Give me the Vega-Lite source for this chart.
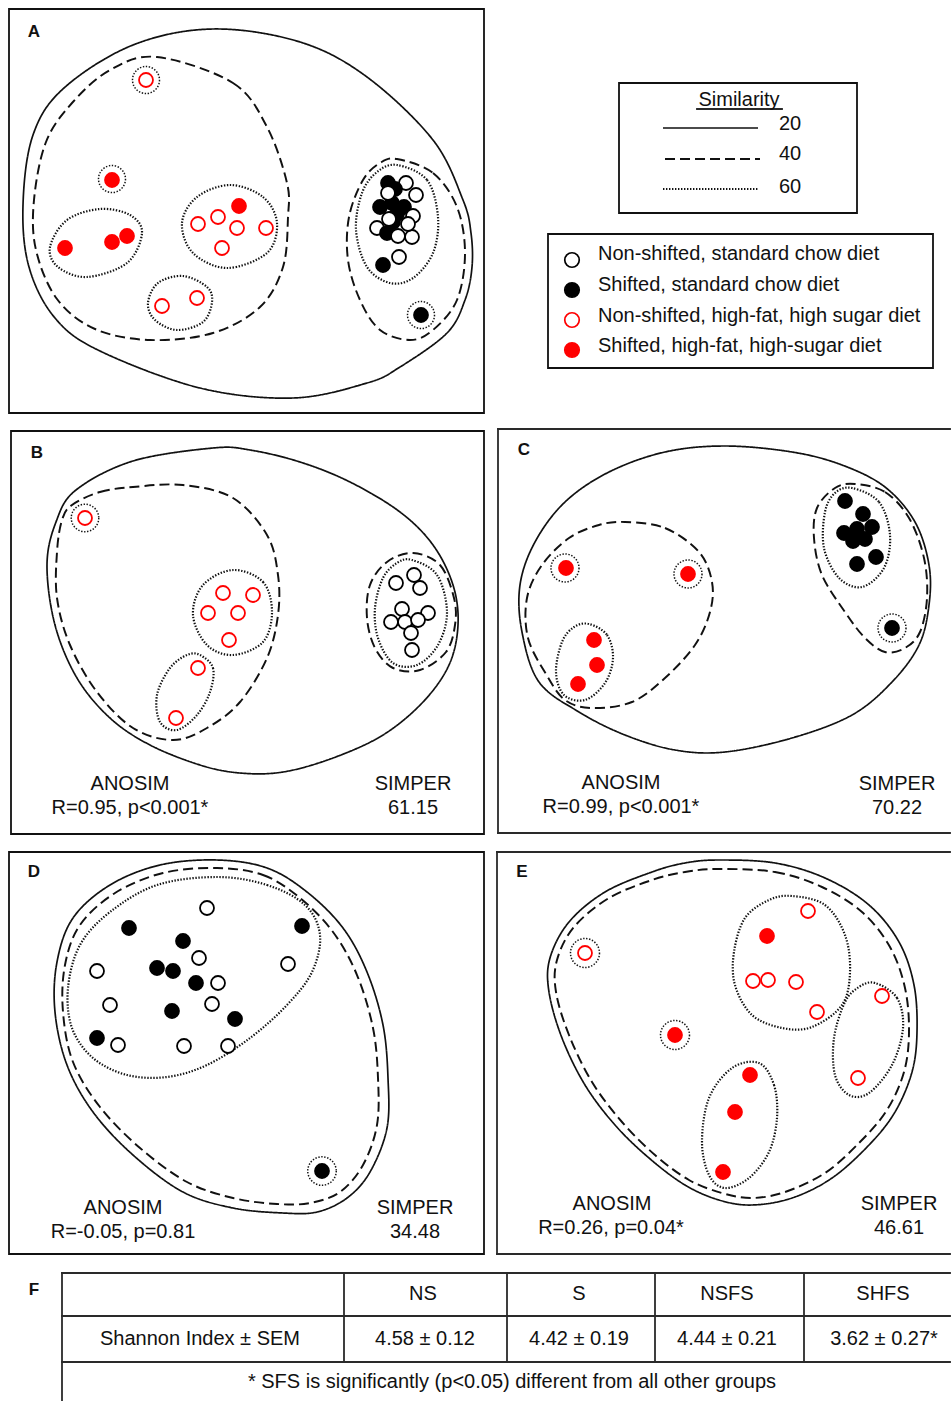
{
  "$schema": "https://vega.github.io/schema/vega-lite/v6.json",
  "width": 952,
  "height": 1402,
  "autosize": {"type": "fit", "contains": "padding"},
  "padding": 0,
  "background": "white",
  "view": {"stroke": null},
  "config": {"font": "Liberation Sans"},
  "datasets": {
    "boxes": [
      {"x": 9, "x2": 484, "y": 9, "y2": 413},
      {"x": 11, "x2": 484, "y": 431, "y2": 834},
      {"x": 9, "x2": 484, "y": 852, "y2": 1254},
      {"x": 619, "x2": 857, "y": 83, "y2": 213},
      {"x": 548, "x2": 933, "y": 234, "y2": 368}
    ],
    "segments": [
      {"x": 498, "x2": 950, "y": 429, "y2": 429},
      {"x": 498, "x2": 498, "y": 429, "y2": 833},
      {"x": 498, "x2": 950, "y": 833, "y2": 833},
      {"x": 497, "x2": 950, "y": 852, "y2": 852},
      {"x": 497, "x2": 497, "y": 852, "y2": 1254},
      {"x": 497, "x2": 950, "y": 1254, "y2": 1254},
      {"x": 62, "x2": 950, "y": 1273, "y2": 1273},
      {"x": 62, "x2": 950, "y": 1316, "y2": 1316},
      {"x": 62, "x2": 950, "y": 1362, "y2": 1362},
      {"x": 62, "x2": 62, "y": 1273, "y2": 1400},
      {"x": 344, "x2": 344, "y": 1273, "y2": 1362},
      {"x": 507, "x2": 507, "y": 1273, "y2": 1362},
      {"x": 655, "x2": 655, "y": 1273, "y2": 1362},
      {"x": 804, "x2": 804, "y": 1273, "y2": 1362},
      {"x": 697, "x2": 782, "y": 109, "y2": 109}
    ],
    "simKey": [
      {"level": "20", "x": 663, "x2": 758, "y": 128},
      {"level": "40", "x": 665, "x2": 760, "y": 159},
      {"level": "60", "x": 663, "x2": 758, "y": 189}
    ],
    "rings": [
      {"panel": "A", "x": 146, "y": 80},
      {"panel": "A", "x": 112, "y": 179},
      {"panel": "A", "x": 421, "y": 315},
      {"panel": "B", "x": 85, "y": 518},
      {"panel": "C", "x": 565, "y": 568},
      {"panel": "C", "x": 688, "y": 574},
      {"panel": "C", "x": 892, "y": 628},
      {"panel": "D", "x": 322, "y": 1171},
      {"panel": "E", "x": 585, "y": 953},
      {"panel": "E", "x": 675, "y": 1035}
    ],
    "outlines": [
      {"id": "A20", "level": "20", "x": 213, "y": 29},
      {"id": "A20", "level": "20", "x": 300, "y": 42},
      {"id": "A20", "level": "20", "x": 367, "y": 77},
      {"id": "A20", "level": "20", "x": 433, "y": 140},
      {"id": "A20", "level": "20", "x": 463, "y": 200},
      {"id": "A20", "level": "20", "x": 471, "y": 233},
      {"id": "A20", "level": "20", "x": 472, "y": 267},
      {"id": "A20", "level": "20", "x": 465, "y": 300},
      {"id": "A20", "level": "20", "x": 447, "y": 333},
      {"id": "A20", "level": "20", "x": 400, "y": 367},
      {"id": "A20", "level": "20", "x": 367, "y": 383},
      {"id": "A20", "level": "20", "x": 293, "y": 398},
      {"id": "A20", "level": "20", "x": 200, "y": 388},
      {"id": "A20", "level": "20", "x": 100, "y": 351},
      {"id": "A20", "level": "20", "x": 55, "y": 318},
      {"id": "A20", "level": "20", "x": 29, "y": 267},
      {"id": "A20", "level": "20", "x": 23, "y": 205},
      {"id": "A20", "level": "20", "x": 33, "y": 135},
      {"id": "A20", "level": "20", "x": 64, "y": 88},
      {"id": "A20", "level": "20", "x": 133, "y": 45},

      {"id": "A40a", "level": "40", "x": 157, "y": 57},
      {"id": "A40a", "level": "40", "x": 233, "y": 83},
      {"id": "A40a", "level": "40", "x": 267, "y": 127},
      {"id": "A40a", "level": "40", "x": 287, "y": 183},
      {"id": "A40a", "level": "40", "x": 288, "y": 217},
      {"id": "A40a", "level": "40", "x": 283, "y": 267},
      {"id": "A40a", "level": "40", "x": 260, "y": 307},
      {"id": "A40a", "level": "40", "x": 213, "y": 333},
      {"id": "A40a", "level": "40", "x": 150, "y": 340},
      {"id": "A40a", "level": "40", "x": 95, "y": 329},
      {"id": "A40a", "level": "40", "x": 57, "y": 299},
      {"id": "A40a", "level": "40", "x": 36, "y": 250},
      {"id": "A40a", "level": "40", "x": 34, "y": 200},
      {"id": "A40a", "level": "40", "x": 46, "y": 142},
      {"id": "A40a", "level": "40", "x": 72, "y": 103},
      {"id": "A40a", "level": "40", "x": 110, "y": 70},

      {"id": "A40b", "level": "40", "x": 397, "y": 159},
      {"id": "A40b", "level": "40", "x": 433, "y": 173},
      {"id": "A40b", "level": "40", "x": 457, "y": 207},
      {"id": "A40b", "level": "40", "x": 465, "y": 253},
      {"id": "A40b", "level": "40", "x": 457, "y": 300},
      {"id": "A40b", "level": "40", "x": 433, "y": 330},
      {"id": "A40b", "level": "40", "x": 410, "y": 340},
      {"id": "A40b", "level": "40", "x": 380, "y": 330},
      {"id": "A40b", "level": "40", "x": 360, "y": 300},
      {"id": "A40b", "level": "40", "x": 348, "y": 260},
      {"id": "A40b", "level": "40", "x": 349, "y": 217},
      {"id": "A40b", "level": "40", "x": 363, "y": 180},
      {"id": "A40b", "level": "40", "x": 380, "y": 163},

      {"id": "A60a", "level": "60", "x": 397, "y": 165},
      {"id": "A60a", "level": "60", "x": 427, "y": 180},
      {"id": "A60a", "level": "60", "x": 438, "y": 217},
      {"id": "A60a", "level": "60", "x": 433, "y": 253},
      {"id": "A60a", "level": "60", "x": 413, "y": 278},
      {"id": "A60a", "level": "60", "x": 390, "y": 283},
      {"id": "A60a", "level": "60", "x": 367, "y": 267},
      {"id": "A60a", "level": "60", "x": 356, "y": 230},
      {"id": "A60a", "level": "60", "x": 362, "y": 193},
      {"id": "A60a", "level": "60", "x": 377, "y": 172},

      {"id": "A60b", "level": "60", "x": 50, "y": 247},
      {"id": "A60b", "level": "60", "x": 67, "y": 220},
      {"id": "A60b", "level": "60", "x": 100, "y": 209},
      {"id": "A60b", "level": "60", "x": 130, "y": 215},
      {"id": "A60b", "level": "60", "x": 142, "y": 233},
      {"id": "A60b", "level": "60", "x": 127, "y": 263},
      {"id": "A60b", "level": "60", "x": 87, "y": 277},
      {"id": "A60b", "level": "60", "x": 58, "y": 267},

      {"id": "A60c", "level": "60", "x": 230, "y": 185},
      {"id": "A60c", "level": "60", "x": 263, "y": 197},
      {"id": "A60c", "level": "60", "x": 277, "y": 223},
      {"id": "A60c", "level": "60", "x": 267, "y": 253},
      {"id": "A60c", "level": "60", "x": 227, "y": 268},
      {"id": "A60c", "level": "60", "x": 193, "y": 253},
      {"id": "A60c", "level": "60", "x": 182, "y": 223},
      {"id": "A60c", "level": "60", "x": 197, "y": 197},

      {"id": "A60d", "level": "60", "x": 183, "y": 276},
      {"id": "A60d", "level": "60", "x": 207, "y": 287},
      {"id": "A60d", "level": "60", "x": 212, "y": 302},
      {"id": "A60d", "level": "60", "x": 203, "y": 322},
      {"id": "A60d", "level": "60", "x": 177, "y": 330},
      {"id": "A60d", "level": "60", "x": 155, "y": 320},
      {"id": "A60d", "level": "60", "x": 148, "y": 303},
      {"id": "A60d", "level": "60", "x": 158, "y": 283},

      {"id": "B20", "level": "20", "x": 213, "y": 448},
      {"id": "B20", "level": "20", "x": 250, "y": 450},
      {"id": "B20", "level": "20", "x": 300, "y": 462},
      {"id": "B20", "level": "20", "x": 350, "y": 482},
      {"id": "B20", "level": "20", "x": 400, "y": 512},
      {"id": "B20", "level": "20", "x": 433, "y": 545},
      {"id": "B20", "level": "20", "x": 453, "y": 585},
      {"id": "B20", "level": "20", "x": 458, "y": 625},
      {"id": "B20", "level": "20", "x": 449, "y": 665},
      {"id": "B20", "level": "20", "x": 423, "y": 702},
      {"id": "B20", "level": "20", "x": 383, "y": 735},
      {"id": "B20", "level": "20", "x": 333, "y": 758},
      {"id": "B20", "level": "20", "x": 283, "y": 772},
      {"id": "B20", "level": "20", "x": 240, "y": 773},
      {"id": "B20", "level": "20", "x": 200, "y": 765},
      {"id": "B20", "level": "20", "x": 150, "y": 745},
      {"id": "B20", "level": "20", "x": 110, "y": 718},
      {"id": "B20", "level": "20", "x": 77, "y": 678},
      {"id": "B20", "level": "20", "x": 55, "y": 625},
      {"id": "B20", "level": "20", "x": 47, "y": 565},
      {"id": "B20", "level": "20", "x": 56, "y": 522},
      {"id": "B20", "level": "20", "x": 76, "y": 490},
      {"id": "B20", "level": "20", "x": 133, "y": 461},

      {"id": "B40a", "level": "40", "x": 72, "y": 505},
      {"id": "B40a", "level": "40", "x": 100, "y": 492},
      {"id": "B40a", "level": "40", "x": 133, "y": 487},
      {"id": "B40a", "level": "40", "x": 183, "y": 485},
      {"id": "B40a", "level": "40", "x": 233, "y": 498},
      {"id": "B40a", "level": "40", "x": 267, "y": 535},
      {"id": "B40a", "level": "40", "x": 278, "y": 575},
      {"id": "B40a", "level": "40", "x": 278, "y": 615},
      {"id": "B40a", "level": "40", "x": 267, "y": 658},
      {"id": "B40a", "level": "40", "x": 240, "y": 702},
      {"id": "B40a", "level": "40", "x": 207, "y": 728},
      {"id": "B40a", "level": "40", "x": 173, "y": 740},
      {"id": "B40a", "level": "40", "x": 133, "y": 728},
      {"id": "B40a", "level": "40", "x": 97, "y": 692},
      {"id": "B40a", "level": "40", "x": 70, "y": 645},
      {"id": "B40a", "level": "40", "x": 57, "y": 598},
      {"id": "B40a", "level": "40", "x": 57, "y": 552},
      {"id": "B40a", "level": "40", "x": 62, "y": 520},

      {"id": "B40b", "level": "40", "x": 413, "y": 553},
      {"id": "B40b", "level": "40", "x": 440, "y": 565},
      {"id": "B40b", "level": "40", "x": 454, "y": 598},
      {"id": "B40b", "level": "40", "x": 455, "y": 625},
      {"id": "B40b", "level": "40", "x": 446, "y": 652},
      {"id": "B40b", "level": "40", "x": 420, "y": 670},
      {"id": "B40b", "level": "40", "x": 393, "y": 668},
      {"id": "B40b", "level": "40", "x": 375, "y": 648},
      {"id": "B40b", "level": "40", "x": 367, "y": 618},
      {"id": "B40b", "level": "40", "x": 370, "y": 585},
      {"id": "B40b", "level": "40", "x": 387, "y": 562},

      {"id": "B60a", "level": "60", "x": 412, "y": 560},
      {"id": "B60a", "level": "60", "x": 437, "y": 575},
      {"id": "B60a", "level": "60", "x": 447, "y": 612},
      {"id": "B60a", "level": "60", "x": 438, "y": 645},
      {"id": "B60a", "level": "60", "x": 417, "y": 665},
      {"id": "B60a", "level": "60", "x": 393, "y": 663},
      {"id": "B60a", "level": "60", "x": 378, "y": 638},
      {"id": "B60a", "level": "60", "x": 375, "y": 608},
      {"id": "B60a", "level": "60", "x": 383, "y": 578},
      {"id": "B60a", "level": "60", "x": 397, "y": 563},

      {"id": "B60b", "level": "60", "x": 233, "y": 570},
      {"id": "B60b", "level": "60", "x": 263, "y": 582},
      {"id": "B60b", "level": "60", "x": 272, "y": 612},
      {"id": "B60b", "level": "60", "x": 263, "y": 642},
      {"id": "B60b", "level": "60", "x": 233, "y": 655},
      {"id": "B60b", "level": "60", "x": 207, "y": 645},
      {"id": "B60b", "level": "60", "x": 193, "y": 615},
      {"id": "B60b", "level": "60", "x": 203, "y": 585},

      {"id": "B60c", "level": "60", "x": 200, "y": 655},
      {"id": "B60c", "level": "60", "x": 213, "y": 668},
      {"id": "B60c", "level": "60", "x": 210, "y": 692},
      {"id": "B60c", "level": "60", "x": 197, "y": 715},
      {"id": "B60c", "level": "60", "x": 177, "y": 730},
      {"id": "B60c", "level": "60", "x": 160, "y": 722},
      {"id": "B60c", "level": "60", "x": 157, "y": 695},
      {"id": "B60c", "level": "60", "x": 170, "y": 668},
      {"id": "B60c", "level": "60", "x": 187, "y": 655},

      {"id": "C20", "level": "20", "x": 725, "y": 446},
      {"id": "C20", "level": "20", "x": 792, "y": 452},
      {"id": "C20", "level": "20", "x": 842, "y": 465},
      {"id": "C20", "level": "20", "x": 885, "y": 487},
      {"id": "C20", "level": "20", "x": 915, "y": 522},
      {"id": "C20", "level": "20", "x": 929, "y": 565},
      {"id": "C20", "level": "20", "x": 929, "y": 605},
      {"id": "C20", "level": "20", "x": 919, "y": 645},
      {"id": "C20", "level": "20", "x": 892, "y": 682},
      {"id": "C20", "level": "20", "x": 852, "y": 715},
      {"id": "C20", "level": "20", "x": 792, "y": 738},
      {"id": "C20", "level": "20", "x": 725, "y": 752},
      {"id": "C20", "level": "20", "x": 675, "y": 750},
      {"id": "C20", "level": "20", "x": 625, "y": 735},
      {"id": "C20", "level": "20", "x": 579, "y": 712},
      {"id": "C20", "level": "20", "x": 539, "y": 682},
      {"id": "C20", "level": "20", "x": 522, "y": 632},
      {"id": "C20", "level": "20", "x": 520, "y": 585},
      {"id": "C20", "level": "20", "x": 535, "y": 542},
      {"id": "C20", "level": "20", "x": 565, "y": 502},
      {"id": "C20", "level": "20", "x": 609, "y": 472},
      {"id": "C20", "level": "20", "x": 665, "y": 452},

      {"id": "C40a", "level": "40", "x": 625, "y": 522},
      {"id": "C40a", "level": "40", "x": 665, "y": 528},
      {"id": "C40a", "level": "40", "x": 699, "y": 552},
      {"id": "C40a", "level": "40", "x": 712, "y": 582},
      {"id": "C40a", "level": "40", "x": 710, "y": 612},
      {"id": "C40a", "level": "40", "x": 695, "y": 645},
      {"id": "C40a", "level": "40", "x": 665, "y": 678},
      {"id": "C40a", "level": "40", "x": 632, "y": 702},
      {"id": "C40a", "level": "40", "x": 592, "y": 708},
      {"id": "C40a", "level": "40", "x": 565, "y": 700},
      {"id": "C40a", "level": "40", "x": 546, "y": 674},
      {"id": "C40a", "level": "40", "x": 528, "y": 638},
      {"id": "C40a", "level": "40", "x": 527, "y": 598},
      {"id": "C40a", "level": "40", "x": 542, "y": 565},
      {"id": "C40a", "level": "40", "x": 569, "y": 538},
      {"id": "C40a", "level": "40", "x": 599, "y": 525},

      {"id": "C40b", "level": "40", "x": 855, "y": 484},
      {"id": "C40b", "level": "40", "x": 885, "y": 492},
      {"id": "C40b", "level": "40", "x": 909, "y": 518},
      {"id": "C40b", "level": "40", "x": 924, "y": 558},
      {"id": "C40b", "level": "40", "x": 927, "y": 598},
      {"id": "C40b", "level": "40", "x": 920, "y": 632},
      {"id": "C40b", "level": "40", "x": 905, "y": 648},
      {"id": "C40b", "level": "40", "x": 885, "y": 652},
      {"id": "C40b", "level": "40", "x": 865, "y": 638},
      {"id": "C40b", "level": "40", "x": 845, "y": 612},
      {"id": "C40b", "level": "40", "x": 822, "y": 575},
      {"id": "C40b", "level": "40", "x": 814, "y": 538},
      {"id": "C40b", "level": "40", "x": 817, "y": 508},
      {"id": "C40b", "level": "40", "x": 835, "y": 488},

      {"id": "C60a", "level": "60", "x": 852, "y": 488},
      {"id": "C60a", "level": "60", "x": 879, "y": 502},
      {"id": "C60a", "level": "60", "x": 890, "y": 535},
      {"id": "C60a", "level": "60", "x": 884, "y": 568},
      {"id": "C60a", "level": "60", "x": 862, "y": 587},
      {"id": "C60a", "level": "60", "x": 839, "y": 578},
      {"id": "C60a", "level": "60", "x": 824, "y": 548},
      {"id": "C60a", "level": "60", "x": 825, "y": 512},
      {"id": "C60a", "level": "60", "x": 835, "y": 493},

      {"id": "C60b", "level": "60", "x": 589, "y": 624},
      {"id": "C60b", "level": "60", "x": 607, "y": 635},
      {"id": "C60b", "level": "60", "x": 613, "y": 658},
      {"id": "C60b", "level": "60", "x": 605, "y": 683},
      {"id": "C60b", "level": "60", "x": 585, "y": 700},
      {"id": "C60b", "level": "60", "x": 564, "y": 695},
      {"id": "C60b", "level": "60", "x": 556, "y": 672},
      {"id": "C60b", "level": "60", "x": 562, "y": 642},
      {"id": "C60b", "level": "60", "x": 574, "y": 627},

      {"id": "D20", "level": "20", "x": 217, "y": 860},
      {"id": "D20", "level": "20", "x": 267, "y": 868},
      {"id": "D20", "level": "20", "x": 307, "y": 892},
      {"id": "D20", "level": "20", "x": 343, "y": 928},
      {"id": "D20", "level": "20", "x": 367, "y": 972},
      {"id": "D20", "level": "20", "x": 383, "y": 1025},
      {"id": "D20", "level": "20", "x": 388, "y": 1078},
      {"id": "D20", "level": "20", "x": 387, "y": 1128},
      {"id": "D20", "level": "20", "x": 370, "y": 1172},
      {"id": "D20", "level": "20", "x": 347, "y": 1198},
      {"id": "D20", "level": "20", "x": 317, "y": 1212},
      {"id": "D20", "level": "20", "x": 283, "y": 1213},
      {"id": "D20", "level": "20", "x": 233, "y": 1208},
      {"id": "D20", "level": "20", "x": 183, "y": 1192},
      {"id": "D20", "level": "20", "x": 133, "y": 1155},
      {"id": "D20", "level": "20", "x": 93, "y": 1112},
      {"id": "D20", "level": "20", "x": 67, "y": 1065},
      {"id": "D20", "level": "20", "x": 55, "y": 1012},
      {"id": "D20", "level": "20", "x": 57, "y": 962},
      {"id": "D20", "level": "20", "x": 73, "y": 918},
      {"id": "D20", "level": "20", "x": 110, "y": 885},
      {"id": "D20", "level": "20", "x": 160, "y": 865},

      {"id": "D40", "level": "40", "x": 217, "y": 868},
      {"id": "D40", "level": "40", "x": 263, "y": 875},
      {"id": "D40", "level": "40", "x": 300, "y": 898},
      {"id": "D40", "level": "40", "x": 333, "y": 932},
      {"id": "D40", "level": "40", "x": 357, "y": 975},
      {"id": "D40", "level": "40", "x": 373, "y": 1028},
      {"id": "D40", "level": "40", "x": 378, "y": 1078},
      {"id": "D40", "level": "40", "x": 377, "y": 1125},
      {"id": "D40", "level": "40", "x": 363, "y": 1165},
      {"id": "D40", "level": "40", "x": 340, "y": 1192},
      {"id": "D40", "level": "40", "x": 310, "y": 1203},
      {"id": "D40", "level": "40", "x": 277, "y": 1204},
      {"id": "D40", "level": "40", "x": 233, "y": 1198},
      {"id": "D40", "level": "40", "x": 187, "y": 1182},
      {"id": "D40", "level": "40", "x": 140, "y": 1148},
      {"id": "D40", "level": "40", "x": 100, "y": 1107},
      {"id": "D40", "level": "40", "x": 73, "y": 1062},
      {"id": "D40", "level": "40", "x": 63, "y": 1012},
      {"id": "D40", "level": "40", "x": 65, "y": 965},
      {"id": "D40", "level": "40", "x": 80, "y": 925},
      {"id": "D40", "level": "40", "x": 115, "y": 893},
      {"id": "D40", "level": "40", "x": 163, "y": 873},

      {"id": "D60", "level": "60", "x": 217, "y": 877},
      {"id": "D60", "level": "60", "x": 267, "y": 885},
      {"id": "D60", "level": "60", "x": 305, "y": 905},
      {"id": "D60", "level": "60", "x": 320, "y": 935},
      {"id": "D60", "level": "60", "x": 312, "y": 972},
      {"id": "D60", "level": "60", "x": 287, "y": 1005},
      {"id": "D60", "level": "60", "x": 250, "y": 1038},
      {"id": "D60", "level": "60", "x": 207, "y": 1065},
      {"id": "D60", "level": "60", "x": 167, "y": 1077},
      {"id": "D60", "level": "60", "x": 127, "y": 1075},
      {"id": "D60", "level": "60", "x": 93, "y": 1058},
      {"id": "D60", "level": "60", "x": 72, "y": 1028},
      {"id": "D60", "level": "60", "x": 68, "y": 988},
      {"id": "D60", "level": "60", "x": 80, "y": 945},
      {"id": "D60", "level": "60", "x": 110, "y": 912},
      {"id": "D60", "level": "60", "x": 157, "y": 885},

      {"id": "E20", "level": "20", "x": 719, "y": 860},
      {"id": "E20", "level": "20", "x": 775, "y": 863},
      {"id": "E20", "level": "20", "x": 825, "y": 878},
      {"id": "E20", "level": "20", "x": 869, "y": 905},
      {"id": "E20", "level": "20", "x": 899, "y": 942},
      {"id": "E20", "level": "20", "x": 914, "y": 985},
      {"id": "E20", "level": "20", "x": 917, "y": 1032},
      {"id": "E20", "level": "20", "x": 912, "y": 1072},
      {"id": "E20", "level": "20", "x": 895, "y": 1112},
      {"id": "E20", "level": "20", "x": 869, "y": 1145},
      {"id": "E20", "level": "20", "x": 832, "y": 1178},
      {"id": "E20", "level": "20", "x": 792, "y": 1198},
      {"id": "E20", "level": "20", "x": 752, "y": 1205},
      {"id": "E20", "level": "20", "x": 719, "y": 1200},
      {"id": "E20", "level": "20", "x": 685, "y": 1185},
      {"id": "E20", "level": "20", "x": 649, "y": 1158},
      {"id": "E20", "level": "20", "x": 615, "y": 1125},
      {"id": "E20", "level": "20", "x": 585, "y": 1085},
      {"id": "E20", "level": "20", "x": 562, "y": 1038},
      {"id": "E20", "level": "20", "x": 549, "y": 992},
      {"id": "E20", "level": "20", "x": 550, "y": 958},
      {"id": "E20", "level": "20", "x": 569, "y": 922},
      {"id": "E20", "level": "20", "x": 605, "y": 892},
      {"id": "E20", "level": "20", "x": 652, "y": 872},
      {"id": "E20", "level": "20", "x": 685, "y": 863},

      {"id": "E40", "level": "40", "x": 719, "y": 869},
      {"id": "E40", "level": "40", "x": 775, "y": 872},
      {"id": "E40", "level": "40", "x": 822, "y": 887},
      {"id": "E40", "level": "40", "x": 862, "y": 912},
      {"id": "E40", "level": "40", "x": 890, "y": 947},
      {"id": "E40", "level": "40", "x": 905, "y": 988},
      {"id": "E40", "level": "40", "x": 909, "y": 1032},
      {"id": "E40", "level": "40", "x": 904, "y": 1072},
      {"id": "E40", "level": "40", "x": 887, "y": 1110},
      {"id": "E40", "level": "40", "x": 860, "y": 1142},
      {"id": "E40", "level": "40", "x": 825, "y": 1173},
      {"id": "E40", "level": "40", "x": 785, "y": 1192},
      {"id": "E40", "level": "40", "x": 752, "y": 1198},
      {"id": "E40", "level": "40", "x": 722, "y": 1193},
      {"id": "E40", "level": "40", "x": 689, "y": 1180},
      {"id": "E40", "level": "40", "x": 655, "y": 1155},
      {"id": "E40", "level": "40", "x": 622, "y": 1122},
      {"id": "E40", "level": "40", "x": 592, "y": 1082},
      {"id": "E40", "level": "40", "x": 569, "y": 1035},
      {"id": "E40", "level": "40", "x": 556, "y": 992},
      {"id": "E40", "level": "40", "x": 557, "y": 960},
      {"id": "E40", "level": "40", "x": 574, "y": 927},
      {"id": "E40", "level": "40", "x": 609, "y": 898},
      {"id": "E40", "level": "40", "x": 652, "y": 880},
      {"id": "E40", "level": "40", "x": 685, "y": 872},

      {"id": "E60a", "level": "60", "x": 792, "y": 896},
      {"id": "E60a", "level": "60", "x": 825, "y": 905},
      {"id": "E60a", "level": "60", "x": 845, "y": 935},
      {"id": "E60a", "level": "60", "x": 850, "y": 972},
      {"id": "E60a", "level": "60", "x": 842, "y": 1005},
      {"id": "E60a", "level": "60", "x": 812, "y": 1027},
      {"id": "E60a", "level": "60", "x": 782, "y": 1028},
      {"id": "E60a", "level": "60", "x": 752, "y": 1015},
      {"id": "E60a", "level": "60", "x": 735, "y": 985},
      {"id": "E60a", "level": "60", "x": 734, "y": 952},
      {"id": "E60a", "level": "60", "x": 745, "y": 918},
      {"id": "E60a", "level": "60", "x": 769, "y": 900},

      {"id": "E60b", "level": "60", "x": 875, "y": 983},
      {"id": "E60b", "level": "60", "x": 897, "y": 998},
      {"id": "E60b", "level": "60", "x": 903, "y": 1028},
      {"id": "E60b", "level": "60", "x": 892, "y": 1065},
      {"id": "E60b", "level": "60", "x": 869, "y": 1093},
      {"id": "E60b", "level": "60", "x": 849, "y": 1095},
      {"id": "E60b", "level": "60", "x": 835, "y": 1075},
      {"id": "E60b", "level": "60", "x": 834, "y": 1038},
      {"id": "E60b", "level": "60", "x": 845, "y": 1002},
      {"id": "E60b", "level": "60", "x": 859, "y": 987},

      {"id": "E60c", "level": "60", "x": 759, "y": 1063},
      {"id": "E60c", "level": "60", "x": 774, "y": 1085},
      {"id": "E60c", "level": "60", "x": 777, "y": 1118},
      {"id": "E60c", "level": "60", "x": 769, "y": 1152},
      {"id": "E60c", "level": "60", "x": 749, "y": 1178},
      {"id": "E60c", "level": "60", "x": 725, "y": 1188},
      {"id": "E60c", "level": "60", "x": 709, "y": 1175},
      {"id": "E60c", "level": "60", "x": 702, "y": 1142},
      {"id": "E60c", "level": "60", "x": 709, "y": 1098},
      {"id": "E60c", "level": "60", "x": 732, "y": 1068}
    ],
    "samples": [
      {"panel": "A", "group": "NSHFS", "x": 146, "y": 80},
      {"panel": "A", "group": "NSHFS", "x": 198, "y": 224},
      {"panel": "A", "group": "NSHFS", "x": 218, "y": 217},
      {"panel": "A", "group": "NSHFS", "x": 237, "y": 228},
      {"panel": "A", "group": "NSHFS", "x": 266, "y": 228},
      {"panel": "A", "group": "NSHFS", "x": 222, "y": 248},
      {"panel": "A", "group": "NSHFS", "x": 162, "y": 306},
      {"panel": "A", "group": "NSHFS", "x": 197, "y": 298},
      {"panel": "A", "group": "SHFS", "x": 112, "y": 180},
      {"panel": "A", "group": "SHFS", "x": 65, "y": 248},
      {"panel": "A", "group": "SHFS", "x": 112, "y": 242},
      {"panel": "A", "group": "SHFS", "x": 127, "y": 236},
      {"panel": "A", "group": "SHFS", "x": 239, "y": 206},
      {"panel": "A", "group": "NS", "x": 406, "y": 183},
      {"panel": "A", "group": "NS", "x": 416, "y": 195},
      {"panel": "A", "group": "NS", "x": 377, "y": 228},
      {"panel": "A", "group": "NS", "x": 412, "y": 237},
      {"panel": "A", "group": "S", "x": 388, "y": 183},
      {"panel": "A", "group": "S", "x": 395, "y": 189},
      {"panel": "A", "group": "S", "x": 380, "y": 207},
      {"panel": "A", "group": "S", "x": 392, "y": 203},
      {"panel": "A", "group": "S", "x": 404, "y": 207},
      {"panel": "A", "group": "S", "x": 397, "y": 214},
      {"panel": "A", "group": "S", "x": 393, "y": 222},
      {"panel": "A", "group": "S", "x": 387, "y": 233},
      {"panel": "A", "group": "S", "x": 383, "y": 265},
      {"panel": "A", "group": "S", "x": 421, "y": 315},
      {"panel": "A", "group": "NS", "x": 388, "y": 193},
      {"panel": "A", "group": "NS", "x": 389, "y": 219},
      {"panel": "A", "group": "NS", "x": 413, "y": 216},
      {"panel": "A", "group": "NS", "x": 408, "y": 224},
      {"panel": "A", "group": "NS", "x": 398, "y": 236},
      {"panel": "A", "group": "NS", "x": 399, "y": 257},

      {"panel": "B", "group": "NSHFS", "x": 85, "y": 518},
      {"panel": "B", "group": "NSHFS", "x": 223, "y": 593},
      {"panel": "B", "group": "NSHFS", "x": 253, "y": 595},
      {"panel": "B", "group": "NSHFS", "x": 208, "y": 613},
      {"panel": "B", "group": "NSHFS", "x": 238, "y": 613},
      {"panel": "B", "group": "NSHFS", "x": 229, "y": 640},
      {"panel": "B", "group": "NSHFS", "x": 198, "y": 668},
      {"panel": "B", "group": "NSHFS", "x": 176, "y": 718},
      {"panel": "B", "group": "NS", "x": 396, "y": 583},
      {"panel": "B", "group": "NS", "x": 414, "y": 575},
      {"panel": "B", "group": "NS", "x": 420, "y": 588},
      {"panel": "B", "group": "NS", "x": 402, "y": 609},
      {"panel": "B", "group": "NS", "x": 428, "y": 613},
      {"panel": "B", "group": "NS", "x": 391, "y": 622},
      {"panel": "B", "group": "NS", "x": 405, "y": 622},
      {"panel": "B", "group": "NS", "x": 418, "y": 620},
      {"panel": "B", "group": "NS", "x": 411, "y": 633},
      {"panel": "B", "group": "NS", "x": 412, "y": 650},

      {"panel": "C", "group": "SHFS", "x": 566, "y": 568},
      {"panel": "C", "group": "SHFS", "x": 688, "y": 574},
      {"panel": "C", "group": "SHFS", "x": 594, "y": 640},
      {"panel": "C", "group": "SHFS", "x": 597, "y": 665},
      {"panel": "C", "group": "SHFS", "x": 578, "y": 684},
      {"panel": "C", "group": "S", "x": 845, "y": 501},
      {"panel": "C", "group": "S", "x": 863, "y": 514},
      {"panel": "C", "group": "S", "x": 844, "y": 533},
      {"panel": "C", "group": "S", "x": 857, "y": 529},
      {"panel": "C", "group": "S", "x": 872, "y": 527},
      {"panel": "C", "group": "S", "x": 853, "y": 541},
      {"panel": "C", "group": "S", "x": 865, "y": 539},
      {"panel": "C", "group": "S", "x": 857, "y": 564},
      {"panel": "C", "group": "S", "x": 876, "y": 557},
      {"panel": "C", "group": "S", "x": 892, "y": 628},

      {"panel": "D", "group": "NS", "x": 207, "y": 908},
      {"panel": "D", "group": "NS", "x": 199, "y": 958},
      {"panel": "D", "group": "NS", "x": 97, "y": 971},
      {"panel": "D", "group": "NS", "x": 218, "y": 983},
      {"panel": "D", "group": "NS", "x": 110, "y": 1005},
      {"panel": "D", "group": "NS", "x": 212, "y": 1004},
      {"panel": "D", "group": "NS", "x": 118, "y": 1045},
      {"panel": "D", "group": "NS", "x": 184, "y": 1046},
      {"panel": "D", "group": "NS", "x": 228, "y": 1046},
      {"panel": "D", "group": "NS", "x": 288, "y": 964},
      {"panel": "D", "group": "S", "x": 129, "y": 928},
      {"panel": "D", "group": "S", "x": 183, "y": 941},
      {"panel": "D", "group": "S", "x": 157, "y": 968},
      {"panel": "D", "group": "S", "x": 173, "y": 971},
      {"panel": "D", "group": "S", "x": 196, "y": 983},
      {"panel": "D", "group": "S", "x": 172, "y": 1011},
      {"panel": "D", "group": "S", "x": 235, "y": 1019},
      {"panel": "D", "group": "S", "x": 97, "y": 1038},
      {"panel": "D", "group": "S", "x": 302, "y": 926},
      {"panel": "D", "group": "S", "x": 322, "y": 1171},

      {"panel": "E", "group": "NSHFS", "x": 585, "y": 953},
      {"panel": "E", "group": "NSHFS", "x": 808, "y": 911},
      {"panel": "E", "group": "NSHFS", "x": 753, "y": 981},
      {"panel": "E", "group": "NSHFS", "x": 768, "y": 980},
      {"panel": "E", "group": "NSHFS", "x": 796, "y": 982},
      {"panel": "E", "group": "NSHFS", "x": 817, "y": 1012},
      {"panel": "E", "group": "NSHFS", "x": 882, "y": 996},
      {"panel": "E", "group": "NSHFS", "x": 858, "y": 1078},
      {"panel": "E", "group": "SHFS", "x": 767, "y": 936},
      {"panel": "E", "group": "SHFS", "x": 675, "y": 1035},
      {"panel": "E", "group": "SHFS", "x": 750, "y": 1075},
      {"panel": "E", "group": "SHFS", "x": 735, "y": 1112},
      {"panel": "E", "group": "SHFS", "x": 723, "y": 1172}
    ],
    "keyItems": [
      {"group": "NS", "x": 572, "y": 260, "x2": 598, "y2": 254, "label": "Non-shifted, standard chow diet"},
      {"group": "S", "x": 572, "y": 290, "x2": 598, "y2": 285, "label": "Shifted, standard chow diet"},
      {"group": "NSHFS", "x": 572, "y": 320, "x2": 598, "y2": 316, "label": "Non-shifted, high-fat, high sugar diet"},
      {"group": "SHFS", "x": 572, "y": 350, "x2": 598, "y2": 346, "label": "Shifted, high-fat, high-sugar diet"}
    ],
    "letters": [
      {"x": 34, "y": 32, "text": "A"},
      {"x": 37, "y": 453, "text": "B"},
      {"x": 524, "y": 450, "text": "C"},
      {"x": 34, "y": 872, "text": "D"},
      {"x": 522, "y": 872, "text": "E"},
      {"x": 34, "y": 1290, "text": "F"}
    ],
    "labels": [
      {"x": 739, "y": 100, "text": "Similarity"},
      {"x": 790, "y": 124, "text": "20"},
      {"x": 790, "y": 154, "text": "40"},
      {"x": 790, "y": 187, "text": "60"},
      {"x": 130, "y": 784, "text": "ANOSIM"},
      {"x": 130, "y": 808, "text": "R=0.95, p<0.001*"},
      {"x": 413, "y": 784, "text": "SIMPER"},
      {"x": 413, "y": 808, "text": "61.15"},
      {"x": 621, "y": 783, "text": "ANOSIM"},
      {"x": 621, "y": 807, "text": "R=0.99, p<0.001*"},
      {"x": 897, "y": 784, "text": "SIMPER"},
      {"x": 897, "y": 808, "text": "70.22"},
      {"x": 123, "y": 1208, "text": "ANOSIM"},
      {"x": 123, "y": 1232, "text": "R=-0.05, p=0.81"},
      {"x": 415, "y": 1208, "text": "SIMPER"},
      {"x": 415, "y": 1232, "text": "34.48"},
      {"x": 612, "y": 1204, "text": "ANOSIM"},
      {"x": 611, "y": 1228, "text": "R=0.26, p=0.04*"},
      {"x": 899, "y": 1204, "text": "SIMPER"},
      {"x": 899, "y": 1228, "text": "46.61"},
      {"x": 423, "y": 1294, "text": "NS"},
      {"x": 579, "y": 1294, "text": "S"},
      {"x": 727, "y": 1294, "text": "NSFS"},
      {"x": 883, "y": 1294, "text": "SHFS"},
      {"x": 200, "y": 1339, "text": "Shannon Index ± SEM"},
      {"x": 425, "y": 1339, "text": "4.58 ± 0.12"},
      {"x": 579, "y": 1339, "text": "4.42 ± 0.19"},
      {"x": 727, "y": 1339, "text": "4.44 ± 0.21"},
      {"x": 884, "y": 1339, "text": "3.62 ± 0.27*"},
      {"x": 512, "y": 1382, "text": "* SFS is significantly (p<0.05) different from all other groups"}
    ]
  },
  "encoding": {
    "x": {"field": "x", "type": "quantitative", "scale": {"domain": [0, 952], "nice": false, "zero": false}, "axis": null},
    "y": {"field": "y", "type": "quantitative", "scale": {"domain": [0, 1402], "nice": false, "zero": false, "reverse": true}, "axis": null}
  },
  "layer": [
    {
      "data": {"name": "boxes"},
      "mark": {"type": "rect", "filled": false, "color": "#111", "strokeWidth": 1.8},
      "encoding": {"x2": {"field": "x2"}, "y2": {"field": "y2"}}
    },
    {
      "data": {"name": "segments"},
      "mark": {"type": "rule", "color": "#2a2a2a", "strokeWidth": 1.8, "strokeCap": "square"},
      "encoding": {"x2": {"field": "x2"}, "y2": {"field": "y2"}}
    },
    {
      "data": {"name": "outlines"},
      "mark": {"type": "line", "interpolate": "cardinal-closed", "color": "#111"},
      "encoding": {
        "detail": {"field": "id"},
        "order": {"value": null},
        "strokeDash": {"field": "level", "type": "nominal", "scale": {"domain": ["20", "40", "60"], "range": [[1, 0], [10, 5], [1.4, 1.6]]}, "legend": null},
        "strokeWidth": {"field": "level", "type": "ordinal", "scale": {"domain": ["20", "40", "60"], "range": [1.7, 2.2, 1.5]}, "legend": null}
      }
    },
    {
      "data": {"name": "simKey"},
      "mark": {"type": "rule", "color": "#111"},
      "encoding": {
        "x2": {"field": "x2"},
        "strokeDash": {"field": "level", "type": "nominal", "legend": null},
        "strokeWidth": {"field": "level", "type": "ordinal", "legend": null}
      }
    },
    {
      "data": {"name": "rings"},
      "mark": {"type": "point", "shape": "circle", "filled": false, "color": "#111", "opacity": 1, "strokeWidth": 1.5, "strokeDash": [1.4, 1.6]},
      "encoding": {
        "size": {"field": "panel", "type": "ordinal", "scale": {"domain": ["A", "B", "C", "D", "E"], "range": [729, 841, 1089, 1296, 1156]}, "legend": null}
      }
    },
    {
      "data": {"name": "samples"},
      "mark": {"type": "point", "shape": "circle", "filled": true, "opacity": 1, "size": 195, "strokeWidth": 1.8},
      "encoding": {
        "fill": {"field": "group", "type": "nominal", "scale": {"domain": ["NS", "S", "NSHFS", "SHFS"], "range": ["#ffffff", "#000000", "#ffffff", "#ff0000"]}, "legend": null},
        "stroke": {"field": "group", "type": "nominal", "scale": {"domain": ["NS", "S", "NSHFS", "SHFS"], "range": ["#000000", "#000000", "#ff0000", "#ff0000"]}, "legend": null}
      }
    },
    {
      "data": {"name": "keyItems"},
      "mark": {"type": "point", "shape": "circle", "filled": true, "opacity": 1, "size": 210, "strokeWidth": 1.7},
      "encoding": {
        "fill": {"field": "group", "type": "nominal", "legend": null},
        "stroke": {"field": "group", "type": "nominal", "legend": null}
      }
    },
    {
      "data": {"name": "keyItems"},
      "mark": {"type": "text", "align": "left", "baseline": "middle", "fontSize": 20, "color": "#111"},
      "encoding": {
        "x": {"field": "x2", "type": "quantitative"},
        "y": {"field": "y2", "type": "quantitative"},
        "text": {"field": "label"}
      }
    },
    {
      "data": {"name": "letters"},
      "mark": {"type": "text", "align": "center", "baseline": "middle", "fontSize": 17, "fontWeight": "bold", "color": "#111"},
      "encoding": {"text": {"field": "text"}}
    },
    {
      "data": {"name": "labels"},
      "mark": {"type": "text", "align": "center", "baseline": "middle", "fontSize": 20, "color": "#111"},
      "encoding": {"text": {"field": "text"}}
    }
  ]
}
